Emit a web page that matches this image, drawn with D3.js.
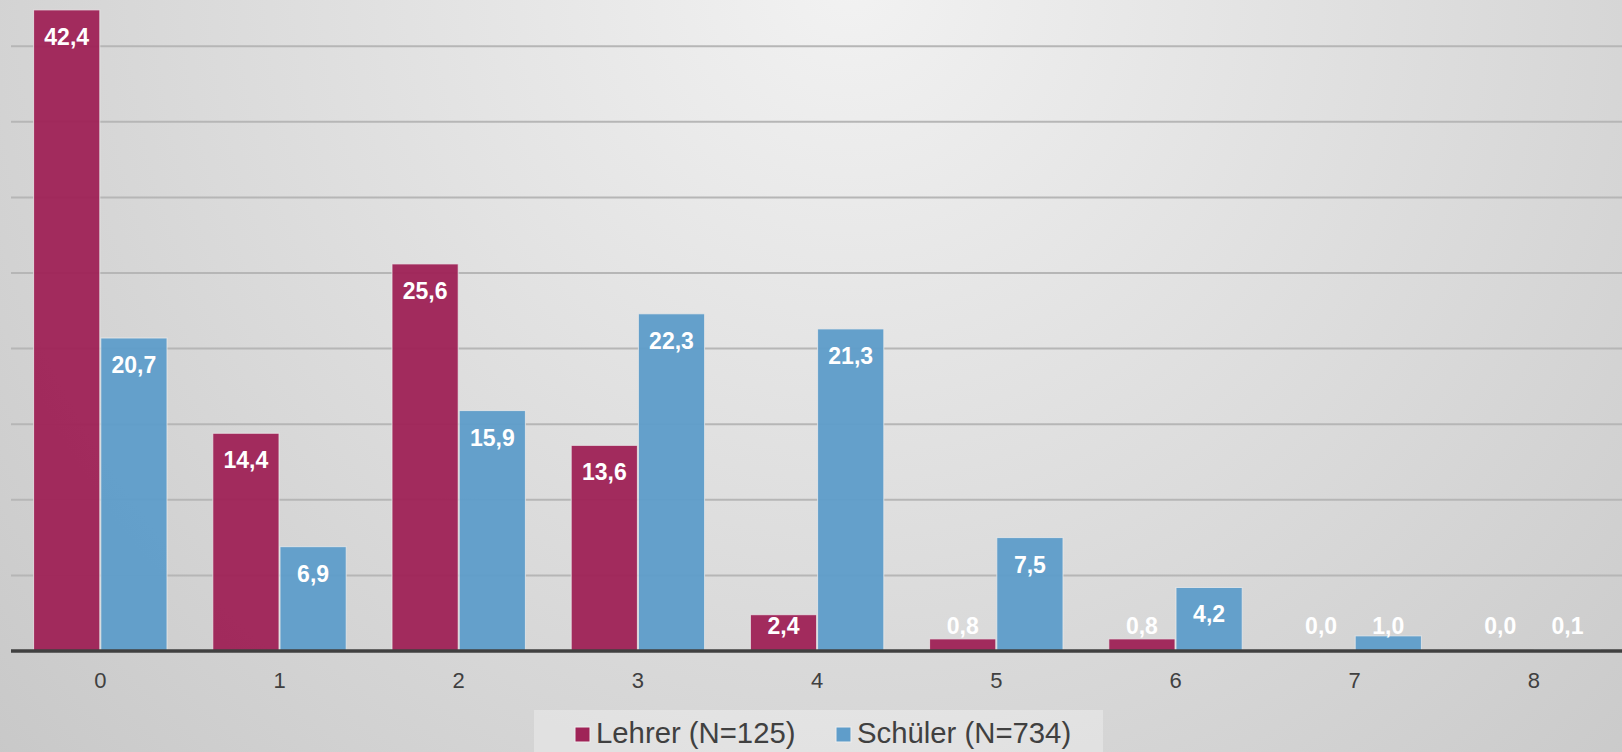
<!DOCTYPE html>
<html>
<head>
<meta charset="utf-8">
<script src="https://cdn.jsdelivr.net/npm/d3@7"></script>
<style>
  html, body { margin: 0; padding: 0; overflow: hidden; }
  svg { display: block; }
  text { font-family: "Liberation Sans", Arial, sans-serif; }
</style>
</head>
<body>
<svg id="chart" width="1622" height="752"></svg>
<script>
const categories = ["0", "1", "2", "3", "4", "5", "6", "7", "8"];
const seriesNames = ["Lehrer (N=125)", "Schüler (N=734)"];
const lehrer = [42.4, 14.4, 25.6, 13.6, 2.4, 0.8, 0.8, 0.0, 0.0];
const schueler = [20.7, 6.9, 15.9, 22.3, 21.3, 7.5, 4.2, 1.0, 0.1];
const gridTicks = [5, 10, 15, 20, 25, 30, 35, 40];
const colors = ["#9f2357", "#5f9dca"];

const W = 1622, H = 752;
const svg = d3.select("#chart");

// background gradient
const defs = svg.append("defs");
const grad = defs.append("radialGradient")
  .attr("id", "bg").attr("gradientUnits", "userSpaceOnUse")
  .attr("cx", 850).attr("cy", -20).attr("r", 1300);
grad.append("stop").attr("offset", "0").attr("stop-color", "#f2f2f2");
grad.append("stop").attr("offset", "1").attr("stop-color", "#c3c3c3");
svg.append("rect").attr("width", W).attr("height", H).attr("fill", "url(#bg)");

const x = d3.scaleBand().domain(categories).range([10.7, 1623.5])
  .paddingInner(0.25).paddingOuter(0.125);
const xs = d3.scaleBand().domain(seriesNames).range([0, x.bandwidth()]).padding(0);
const y = d3.scaleLinear().domain([0, 40]).range([651, 651 - 40 * 15.12]);

// gridlines
svg.append("g")
  .selectAll("line").data(gridTicks).join("line")
  .attr("x1", 11).attr("x2", W)
  .attr("y1", d => y(d)).attr("y2", d => y(d))
  .attr("stroke", "#b6b6b6").attr("stroke-width", 2);

const data = categories.map((c, i) => ({
  cat: c,
  vals: [{ s: seriesNames[0], v: lehrer[i], k: 0 }, { s: seriesNames[1], v: schueler[i], k: 1 }]
}));

const groups = svg.append("g").selectAll("g").data(data).join("g")
  .attr("transform", d => `translate(${x(d.cat)},0)`);

groups.selectAll("rect").data(d => d.vals.filter(e => e.v > 0)).join("rect")
  .attr("x", d => xs(d.s) + 0.5)
  .attr("width", xs.bandwidth() - 1)
  .attr("y", d => y(d.v))
  .attr("height", d => y(0) - y(d.v))
  .attr("fill", d => colors[d.k])
  .attr("fill-opacity", 0.96)
  .attr("stroke", "#eaeaea").attr("stroke-opacity", 0.8).attr("stroke-width", 1);

// axis line
svg.append("line").attr("x1", 11).attr("x2", W).attr("y1", y(0)).attr("y2", y(0))
  .attr("stroke", "#404040").attr("stroke-width", 3.5);

// data labels
groups.selectAll("text").data(d => d.vals).join("text")
  .attr("x", d => xs(d.s) + xs.bandwidth() / 2)
  .attr("y", d => Math.min(y(d.v) + 35, 634))
  .attr("text-anchor", "middle")
  .attr("fill", "#ffffff")
  .attr("font-weight", "bold")
  .attr("font-size", "23px")
  .text(d => d.v.toFixed(1).replace(".", ","));

// x tick labels
const xAxis = d3.axisBottom(x).tickSize(0).tickPadding(0);
const gx = svg.append("g").attr("transform", "translate(0,688)").call(xAxis);
gx.select(".domain").remove();
gx.selectAll("text").attr("dy", 0).attr("y", 0)
  .attr("fill", "#404040").attr("font-size", "22px")
  .attr("font-family", "'Liberation Sans', Arial, sans-serif");

// legend
const lg = svg.append("g");
lg.append("rect").attr("x", 534).attr("y", 710).attr("width", 569).attr("height", 50)
  .attr("fill", "#ffffff").attr("fill-opacity", 0.3);
const legendX = [575, 836];
const items = lg.selectAll("g").data(seriesNames).join("g")
  .attr("transform", (d, i) => `translate(${legendX[i]},727)`);
items.append("rect").attr("width", 15).attr("height", 15)
  .attr("fill", (d, i) => colors[i]).attr("stroke", "#eeeeee").attr("stroke-width", 1);
items.append("text").attr("x", 21).attr("y", 16)
  .attr("fill", "#404040").attr("font-size", "29.3px")
  .text(d => d);
</script>
</body>
</html>
